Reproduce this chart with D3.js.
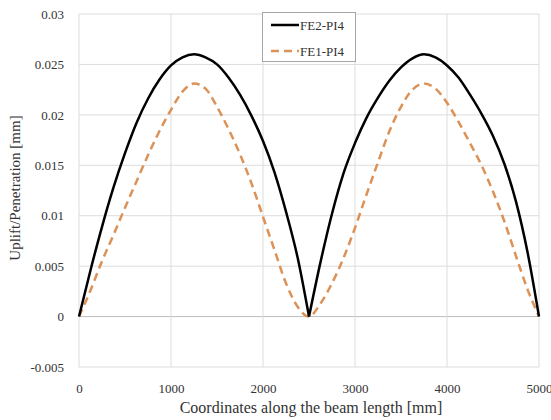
<!DOCTYPE html>
<html>
<head>
<meta charset="utf-8">
<script src="https://cdn.jsdelivr.net/npm/d3@7"></script>
<style>
  body { margin: 0; background: #fff; }
  svg text { font-family: "Liberation Serif", "Times New Roman", Times, serif; fill: #333; }
</style>
</head>
<body>
<div id="container"></div>
<script>
/* CONSTANTS AND GLOBALS */
const width = 551,
  height = 420,
  margin = {top: 14, bottom: 53, left: 79, right: 12};
const serif = '"Liberation Serif", "Times New Roman", Times, serif';

/* DATA */
const coords = [0, 125, 250, 375, 500, 625, 750, 875, 1000, 1125, 1250, 1375, 1500, 1625, 1750, 1875, 2000, 2125, 2250, 2375, 2500,
  2625, 2750, 2875, 3000, 3125, 3250, 3375, 3500, 3625, 3750, 3875, 4000, 4125, 4250, 4375, 4500, 4625, 4750, 4875, 5000];

// FE2-PI4 (solid black)
const fe2 = [0, 0.0046, 0.0089, 0.0128, 0.0162, 0.0192, 0.0216, 0.0235, 0.0249, 0.0257, 0.0260, 0.0257, 0.0250, 0.0237, 0.0220, 0.0199, 0.0174, 0.0143, 0.0104, 0.0059, 0,
  0.0054, 0.0102, 0.0142, 0.0172, 0.0197, 0.0217, 0.0234, 0.0247, 0.0256, 0.0260, 0.0257, 0.0249, 0.0237, 0.0220, 0.0201, 0.0179, 0.0151, 0.0114, 0.0064, 0];

// FE1-PI4 (dashed orange)
const fe1 = [0, 0.0026, 0.0055, 0.0081, 0.0108, 0.0134, 0.0160, 0.0184, 0.0205, 0.0223, 0.0231, 0.0226, 0.0208, 0.0186, 0.0161, 0.0132, 0.0099, 0.0066, 0.0033, 0.0010, 0,
  0.0013, 0.0033, 0.0058, 0.0088, 0.0121, 0.0153, 0.0184, 0.0208, 0.0225, 0.0231, 0.0226, 0.0212, 0.0193, 0.0172, 0.0150, 0.0124, 0.0094, 0.0060, 0.0027, 0];

const xTicks = [0, 1000, 2000, 3000, 4000, 5000];
const yTicks = [-0.005, 0, 0.005, 0.01, 0.015, 0.02, 0.025, 0.03];
const seriesNames = ["FE2-PI4", "FE1-PI4"];

const fe2Data = coords.map((c, i) => ({x: c, y: fe2[i]}));
const fe1Data = coords.map((c, i) => ({x: c, y: fe1[i]}));

// SCALES
const xScale = d3.scaleLinear()
  .domain([0, 5000])
  .range([margin.left, width - margin.right]);

const yScale = d3.scaleLinear()
  .domain([-0.005, 0.03])
  .range([height - margin.bottom, margin.top]);

// CREATE SVG ELEMENT
const svg = d3.select("#container")
  .append("svg")
  .attr("width", width)
  .attr("height", height)
  .attr("font-family", serif);

// GRIDLINES
svg.append("g")
  .selectAll("line.hgrid")
  .data(yTicks)
  .join("line")
  .attr("class", "hgrid")
  .attr("x1", margin.left)
  .attr("x2", width - margin.right)
  .attr("y1", d => yScale(d))
  .attr("y2", d => yScale(d))
  .attr("stroke", d => d === 0 ? "#bdbdbd" : "#dcdcdc")
  .attr("stroke-width", 1);

svg.append("g")
  .selectAll("line.vgrid")
  .data(xTicks)
  .join("line")
  .attr("class", "vgrid")
  .attr("x1", d => xScale(d))
  .attr("x2", d => xScale(d))
  .attr("y1", margin.top)
  .attr("y2", height - margin.bottom)
  .attr("stroke", "#dcdcdc")
  .attr("stroke-width", 1);

// AXES
const xAxis = d3.axisBottom(xScale).tickValues(xTicks).tickSize(0).tickPadding(17).tickFormat(d3.format("d"));
svg.append("g")
  .attr("transform", `translate(0, ${height - margin.bottom})`)
  .call(xAxis)
  .attr("font-family", serif)
  .attr("font-size", 13)
  .call(g => g.select(".domain").remove())
  .selectAll("text")
  .attr("fill", "#333");

const yAxis = d3.axisLeft(yScale).tickValues(yTicks).tickSize(0).tickPadding(15)
  .tickFormat(d => String(+d.toFixed(3)));
svg.append("g")
  .attr("transform", `translate(${margin.left}, 0)`)
  .call(yAxis)
  .attr("font-family", serif)
  .attr("font-size", 13)
  .call(g => g.select(".domain").remove())
  .selectAll("text")
  .attr("fill", "#333");

// AXIS TITLES
svg.append("text")
  .attr("x", (margin.left + width - margin.right) / 2 + 2)
  .attr("y", 413)
  .attr("text-anchor", "middle")
  .attr("font-size", 16)
  .text("Coordinates along the beam length [mm]");

svg.append("text")
  .attr("transform", `translate(20, ${188}) rotate(-90)`)
  .attr("text-anchor", "middle")
  .attr("font-size", 15)
  .text("Uplift/Penetration [mm]");

// LINE GENERATOR
const lineGen = d3.line()
  .x(d => xScale(d.x))
  .y(d => yScale(d.y))
  .curve(d3.curveMonotoneX);

// DRAW LINES
svg.selectAll("path.fe1")
  .data([fe1Data])
  .join("path")
  .attr("class", "fe1")
  .attr("fill", "none")
  .attr("stroke", "#dc9157")
  .attr("stroke-width", 2.5)
  .attr("stroke-dasharray", "8,5")
  .attr("d", d => lineGen(d));

// black curve drawn hump by hump so the cusp at 2500 stays sharp
svg.selectAll("path.fe2")
  .data([fe2Data.slice(0, 21), fe2Data.slice(20)])
  .join("path")
  .attr("class", "fe2")
  .attr("fill", "none")
  .attr("stroke", "#000")
  .attr("stroke-width", 2.5)
  .attr("d", d => lineGen(d));

// LEGEND
const legend = svg.append("g");
legend.append("rect")
  .attr("x", 262.5)
  .attr("y", 12.5)
  .attr("width", 93)
  .attr("height", 49)
  .attr("fill", "#fff")
  .attr("stroke", "#a6a6a6");

const legendStyles = [
  {stroke: "#000", dash: null},
  {stroke: "#dc9157", dash: "8,5"}
];

seriesNames.forEach((name, i) => {
  const y = 25 + i * 26;
  legend.append("line")
    .attr("x1", 271)
    .attr("x2", 299)
    .attr("y1", y)
    .attr("y2", y)
    .attr("stroke", legendStyles[i].stroke)
    .attr("stroke-width", 2.5)
    .attr("stroke-dasharray", legendStyles[i].dash);
  legend.append("text")
    .attr("x", 300)
    .attr("y", y + 4.5)
    .attr("font-size", 13)
    .text(name);
});
</script>
</body>
</html>
